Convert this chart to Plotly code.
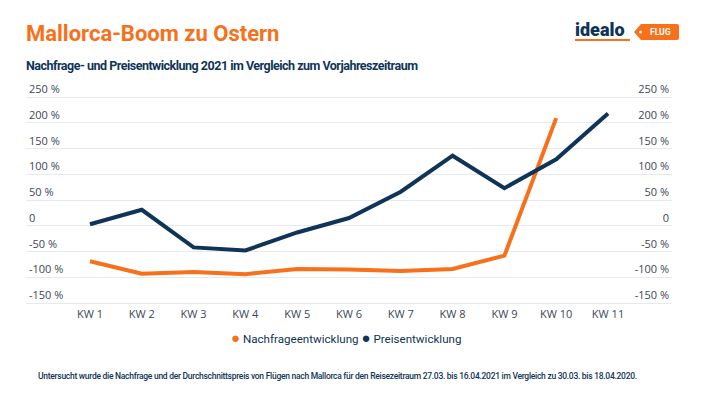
import plotly.graph_objects as go

weeks = ["KW 1", "KW 2", "KW 3", "KW 4", "KW 5", "KW 6", "KW 7", "KW 8", "KW 9", "KW 10", "KW 11"]
nachfrage = [-69, -93, -90, -94, -84, -85, -88, -84, -58, 209, None]
preise = [3, 31, -42, -48, -13, 15, 66, 136, 73, 129, 218]
tick_vals = [-150, -100, -50, 0, 50, 100, 150, 200, 250]
tick_text = ["-150 %", "-100 %", "-50 %", "0", "50 %", "100 %", "150 %", "200 %", "250 %"]

ORANGE = "#f7701a"
NAVY = "#0f3458"
TXT = "#3b4757"
GRID = "#e6e9ee"

W, H = 710, 399
L, R, T, B = 26, 38, 74, 93
PW, PH = W - L - R, H - T - B
SCALE = 0.515  # px per percent
YMIN, YMAX = -150 - (H - B - 303) / SCALE, 250 + (97 - T) / SCALE


def px(x):
    return (x - L) / PW


def py(y):
    return (H - B - y) / PH


fig = go.Figure()
fig.add_trace(go.Scatter(x=weeks, y=nachfrage, name="Nachfrageentwicklung", mode="lines",
                         line=dict(color=ORANGE, width=4), yaxis="y", showlegend=False))
fig.add_trace(go.Scatter(x=weeks, y=preise, name="Preisentwicklung", mode="lines",
                         line=dict(color=NAVY, width=4), yaxis="y2", showlegend=False))

yax = dict(range=[YMIN, YMAX], tickvals=tick_vals, ticktext=tick_text, ticks="",
           tickfont=dict(family="Open Sans", size=11, color=TXT), zeroline=False,
           ticklabelposition="inside top", fixedrange=True, automargin=False)
fig.update_layout(
    width=W, height=H, margin=dict(l=L, r=R, t=T, b=B),
    paper_bgcolor="white", plot_bgcolor="white",
    xaxis=dict(range=[-1.235, 11.235], ticks="", showgrid=False, zeroline=False, automargin=False,
               showline=False, fixedrange=True, ticklabelstandoff=0,
               tickfont=dict(family="Open Sans", size=11, color=TXT)),
    yaxis=dict(**yax, side="left", showgrid=True, gridcolor=GRID, gridwidth=1),
    yaxis2=dict(**yax, side="right", overlaying="y", showgrid=False),
    showlegend=False,
)

ann = []
ann.append(dict(text="<b>Mallorca-Boom zu Ostern</b>", x=px(24), y=py(33), xanchor="left", yanchor="middle",
                font=dict(family="Roboto", size=22, color=ORANGE)))
ann.append(dict(text="<span style='letter-spacing:-0.5px'><b>Nachfrage- und Preisentwicklung 2021 im Vergleich zum Vorjahreszeitraum</b></span>",
                x=px(24), y=py(66), xanchor="left", yanchor="middle",
                font=dict(family="Roboto", size=12.5, color=NAVY)))
ann.append(dict(text=f"<span style='color:{ORANGE};font-size:15px'>●</span> Nachfrageentwicklung <span style='color:{NAVY};font-size:15px'>●</span> Preisentwicklung",
                x=px(346), y=py(338), xanchor="center", yanchor="middle",
                font=dict(family="Roboto", size=11.6, color=NAVY)))
ann.append(dict(text="<span style='letter-spacing:-0.28px'>Untersucht wurde die Nachfrage und der Durchschnittspreis von Flügen nach Mallorca für den Reisezeitraum 27.03. bis 16.04.2021 im Vergleich zu 30.03. bis 18.04.2020.</span>",
                x=px(36), y=py(376), xanchor="left", yanchor="middle",
                font=dict(family="Roboto", size=8.5, color=NAVY, weight=500)))
# logo
ann.append(dict(text="idealo", x=px(573), y=py(30), xanchor="left", yanchor="middle",
                font=dict(family="Roboto", size=18, color=NAVY, weight=900)))
ann.append(dict(text="<b>FLUG</b>", x=px(660), y=py(31.5), xanchor="center", yanchor="middle",
                font=dict(family="Roboto", size=8.5, color="white")))
for a in ann:
    a.update(xref="paper", yref="paper", showarrow=False)
fig.update_layout(annotations=ann)

shapes = [
    dict(type="line", x0=px(575), x1=px(630), y0=py(40), y1=py(40), line=dict(color=ORANGE, width=2)),
    dict(type="path", path=f"M {px(634)} {py(32)} L {px(641)} {py(24)} L {px(677)} {py(24)} "
                            f"Q {px(679)} {py(24)} {px(679)} {py(26)} L {px(679)} {py(38)} "
                            f"Q {px(679)} {py(40)} {px(677)} {py(40)} L {px(641)} {py(40)} Z",
         fillcolor=ORANGE, line=dict(width=0)),
    dict(type="circle", x0=px(639), x1=px(642), y0=py(30.5), y1=py(33.5), fillcolor="white", line=dict(width=0)),
]
for s in shapes:
    s.update(xref="paper", yref="paper", layer="above")
fig.update_layout(shapes=shapes)

fig.write_html("out.html", config={"displayModeBar": False},
               post_script="document.body.style.margin='0';")
